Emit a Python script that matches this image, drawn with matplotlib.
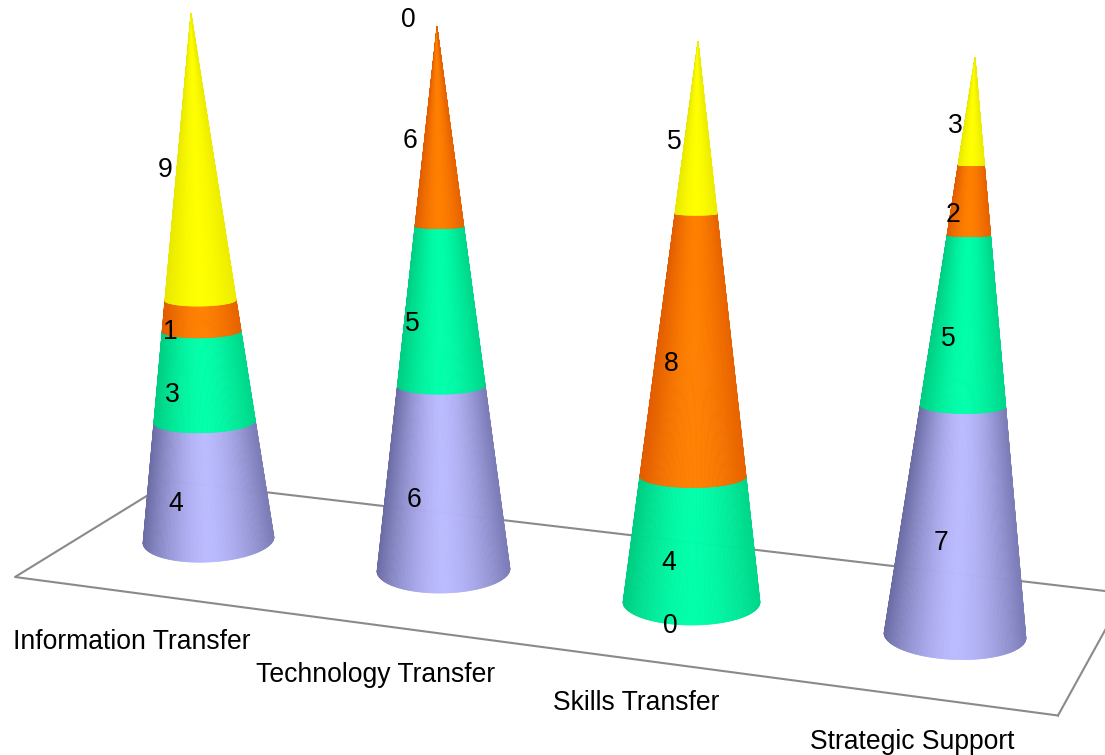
import numpy as np
import matplotlib
matplotlib.use("Agg")
import matplotlib.pyplot as plt
from matplotlib.collections import PolyCollection

plt.rcParams['font.family'] = ['Liberation Sans', 'DejaVu Sans']

# ---- data ----
categories = ["Information Transfer", "Technology Transfer", "Skills Transfer", "Strategic Support"]
series_1 = [4, 6, 0, 7]
series_2 = [3, 5, 4, 5]
series_3 = [1, 6, 8, 2]
series_4 = [9, 0, 5, 3]

# ---- styles ----
series_colors = [(186, 186, 255), (0, 255, 170), (255, 128, 0), (255, 255, 0)]
edge_colors = [(108, 108, 165), (0, 205, 130), (225, 92, 0), (232, 232, 0)]
label_color = "black"

# ---- scene layout (projected view of each cone) ----
base_x = [208.5, 443.5, 691.5, 955.0]
base_y = [540.0, 570.0, 602.0, 635.5]
apex_x = [191.0, 437.0, 698.0, 975.0]
apex_y = [14.0, 27.0, 42.0, 58.0]
radius = [65.5, 66.5, 68.5, 71.0]
base_b = [22.0, 23.0, 23.0, 24.0]
tilt = [-0.045, -0.02, 0.0, 0.035]
label_off = [31.0, 28.5, 23.0, 17.5]
upper_dy = [10.0, 13.0, 13.0, 14.0]
label_xy_cat = [(132, 642), (376, 675), (636, 703.5), (912, 742)]
floor_x = [171, 15, 1058, 1130]
floor_y = [481, 577, 715.5, 585]
floor_back_x = [171, 1105]
floor_back_y = [481, 591]

PERSP = 1.06
RATIO_T = [0.0, 0.06, 0.235, 0.41, 0.47, 0.65, 0.71, 1.0]
RATIO_V = [0.34, 0.28, 0.22, 0.18, 0.17, 0.11, 0.08, 0.0]


def height_frac(t):
    return t / (PERSP + (1 - PERSP) * t)


def ring(i, t, theta):
    s = height_frac(t)
    cx = base_x[i] + (apex_x[i] - base_x[i]) * s
    cy = base_y[i] + (apex_y[i] - base_y[i]) * s
    r = radius[i] * (1 - s)
    ratio = np.interp(t, RATIO_T, RATIO_V) * (base_b[i] / radius[i]) / 0.34
    x = r * np.cos(theta)
    y = -r * ratio * np.sin(theta) + tilt[i] * (1 - s) ** 2 * x
    return cx + x, cy + y


fig = plt.figure(figsize=(11.05, 7.55), dpi=100)
ax = fig.add_axes([0, 0, 1, 1])
ax.set_xlim(0, 1105)
ax.set_ylim(755, 0)
ax.axis("off")

ax.plot(floor_back_x, floor_back_y, color="#8a8a8a", lw=1.5, zorder=1)
ax.plot(floor_x[:3], floor_y[:3], color="#8a8a8a", lw=1.5, zorder=1)
ax.plot(floor_x[2:], floor_y[2:], color="#8a8a8a", lw=1.5, zorder=1)

stacks = np.array([series_1, series_2, series_3, series_4], dtype=float)
totals = stacks.sum(axis=0)
thetas = np.linspace(np.pi, 2 * np.pi, 121)

for i in range(len(categories)):
    cum = 0.0
    for j in range(stacks.shape[0]):
        v = stacks[j, i]
        t0, t1 = cum / totals[i], (cum + v) / totals[i]
        first = cum == 0
        cum += v
        if v > 0:
            x0, y0 = ring(i, t0, thetas)
            x1, y1 = ring(i, t1, thetas)
            polys, cols = [], []
            light = np.array(series_colors[j]) / 255
            dark = np.array(edge_colors[j]) / 255
            for k in range(len(thetas) - 1):
                polys.append([(x0[k], y0[k]), (x0[k + 1], y0[k + 1]),
                              (x1[k + 1], y1[k + 1]), (x1[k], y1[k])])
                u = np.cos(0.5 * (thetas[k] + thetas[k + 1]))
                w = abs(u) ** 1.6 * (1.0 if u < 0 else 0.8)
                cols.append(tuple(light + (dark - light) * w))
            ax.add_collection(PolyCollection(polys, facecolors=cols, edgecolors=cols,
                                             linewidths=0.5, zorder=2 + i))
        # data label, centred on the front of the segment
        _, yb = ring(i, t0, np.array([1.5 * np.pi]))
        _, yt = ring(i, t1, np.array([1.5 * np.pi]))
        s = height_frac(0.5 * (t0 + t1))
        lx = base_x[i] + (apex_x[i] - base_x[i]) * s - label_off[i]
        if v == 0:
            dy = -7 if t0 > 0.5 else 1
        else:
            dy = 6.5 if first else upper_dy[i]
        if v == 0 and t0 == 0:
            lx += 2
        ax.text(lx, 0.5 * (yb[0] + yt[0]) + dy, f"{int(v)}", fontsize=19.1, color=label_color,
                ha="center", va="center", zorder=20)

for name, (x, y) in zip(categories, label_xy_cat):
    ax.text(x, y, name, fontsize=19.1, color=label_color, ha="center", va="center", zorder=20)

fig.savefig("out.png", dpi=100)
